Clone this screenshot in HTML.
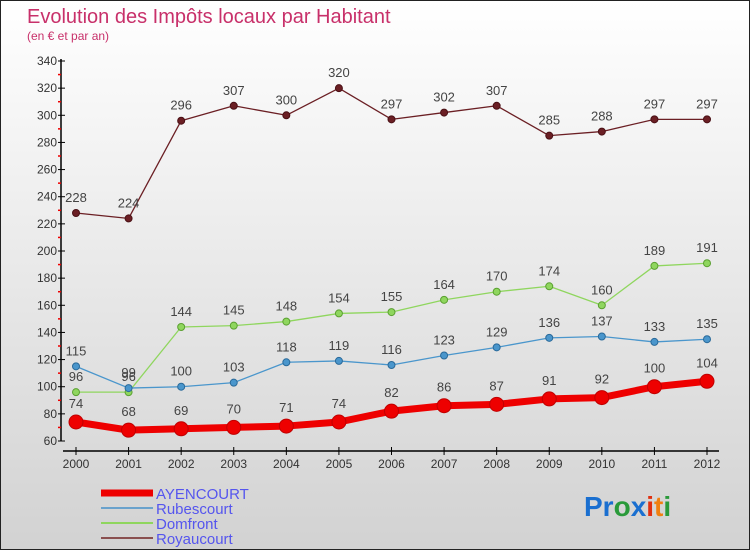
<!DOCTYPE html>
<html><head><meta charset="utf-8"><style>
body{margin:0}
#c{width:750px;height:550px;position:relative;box-sizing:border-box;border:1px solid #222;background:linear-gradient(#fff,#d2d2d2);font-family:"Liberation Sans",sans-serif;overflow:hidden}
text{font-family:"Liberation Sans",sans-serif}
</style></head><body>
<div id="c">
<svg id="s" width="750" height="550">
<text x="26" y="22" font-size="20" fill="#c8306a">Evolution des Impôts locaux par Habitant</text>
<text x="26" y="39" font-size="12" fill="#c8306a">(en € et par an)</text>
<text x="583" y="515" font-size="28" font-weight="bold"><tspan fill="#1a6fd0">Pr</tspan><tspan fill="#2a9a3a">o</tspan><tspan fill="#1a6fd0">x</tspan><tspan fill="#e03010">i</tspan><tspan fill="#f08010">t</tspan><tspan fill="#2a9a3a">i</tspan></text>
</svg>
</div>
<script>
const years=[2000,2001,2002,2003,2004,2005,2006,2007,2008,2009,2010,2011,2012];
const yTicks=[60,80,100,120,140,160,180,200,220,240,260,280,300,320,340];
const ayencourt=[74,68,69,70,71,74,82,86,87,91,92,100,104];
const rubescourt=[115,99,100,103,118,119,116,123,129,136,137,133,135];
const domfront=[96,96,144,145,148,154,155,164,170,174,160,189,191];
const royaucourt=[228,224,296,307,300,320,297,302,307,285,288,297,297];
const svg=document.getElementById('s');const NS='http://www.w3.org/2000/svg';
const X=i=>75+i*(706-75)/(years.length-1);
const Y=v=>440-(v-60)*(380/280);
function el(t,a,p){const e=document.createElementNS(NS,t);for(const k in a)e.setAttribute(k,a[k]);(p||svg).appendChild(e);return e;}
const ax=el('line',{x1:60,y1:58,x2:60,y2:440,stroke:'#000','stroke-width':1.5});


const xx=el('line',{x1:62,y1:450,x2:718,y2:450,stroke:'#000','stroke-width':1.5});


yTicks.forEach((v,i)=>{
  el('line',{x1:57,y1:Y(v),x2:64,y2:Y(v),stroke:'#000'});
  if(i<yTicks.length-1)el('line',{x1:57,y1:Y(v+10),x2:60,y2:Y(v+10),stroke:'#e00','stroke-width':1.5});
  const t=el('text',{x:56,y:Y(v)+4,'font-size':12,fill:'#333','text-anchor':'end'});t.textContent=v;
  
  
});
years.forEach((y,i)=>{
  el('line',{x1:X(i),y1:446,x2:X(i),y2:454,stroke:'#000'});
  const t=el('text',{x:X(i),y:467,'font-size':12,fill:'#333','text-anchor':'middle'});t.textContent=y;
  
  
});
function series(d,col,w,r,name,dark){
  const l=el('polyline',{points:d.map((v,i)=>X(i)+','+Y(v)).join(' '),fill:'none',stroke:col,'stroke-width':w,'stroke-linejoin':'round'});
  
  
  d.forEach((v,i)=>{
    const c=el('circle',{cx:X(i),cy:Y(v),r:r,fill:col,stroke:dark,'stroke-width':1});
    
    
    const t=el('text',{x:X(i),y:Y(v)-11-(r>4?3:0),'font-size':13,fill:'#444','text-anchor':'middle'});t.textContent=v;
    
    
  });
}
series(royaucourt,'#6b1f24',1.3,3.5,'royaucourt','#4a1015');
series(domfront,'#8fd65e',1.3,3.5,'domfront','#5aa030');
series(rubescourt,'#4a96cc',1.3,3.5,'rubescourt','#2a6a9a');
series(ayencourt,'#ee0000',7,7,'ayencourt','#c00000');
const leg=[['AYENCOURT','#ee0000',7],['Rubescourt','#6aa2cc',2],['Domfront','#8fd65e',2],['Royaucourt','#8a5050',2]];
leg.forEach((l,i)=>{
  const y=492+i*15;
  const g=el('g',{});
  
  
  el('line',{x1:100,y1:y,x2:152,y2:y,stroke:l[1],'stroke-width':l[2]},g);
  const t=el('text',{x:155,y:y+6,'font-size':15,fill:'#5555ee'},g);t.textContent=l[0];
});
</script>
</body></html>
